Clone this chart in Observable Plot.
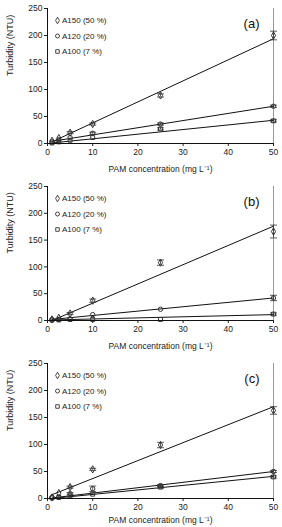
<!DOCTYPE html>
<html>
<head>
<meta charset="utf-8">
<script src="https://cdn.jsdelivr.net/npm/d3@7"></script>
<script src="https://cdn.jsdelivr.net/npm/@observablehq/plot@0.6"></script>
<style>
  html, body { margin: 0; padding: 0; background: #fff; }
  #charts { width: 282px; }
  #charts svg { display: block; }
</style>
</head>
<body>
<div id="charts"></div>
<script>
// ---- data ----
const doses = [1, 2.5, 5, 10, 25, 50];
const seriesNames = ["A150 (50 %)", "A120 (20 %)", "A100 (7 %)"];
const seriesSymbols = ["diamond", "circle", "square"];
const panelLabels = ["(a)", "(b)", "(c)"];
const xTicks = [0, 10, 20, 30, 40, 50];
const yTicks = [0, 50, 100, 150, 200, 250];
const fitX = [1, 50];

// panel (a)
const a_A150 = [5, 10, 20, 36, 89, 200];
const a_A120 = [3, 7, 11, 19, 36, 69];
const a_A100 = [1, 3, 6, 11, 27, 42];
const a_err150 = [1, 1, 2, 2, 3, 8];
const a_err120 = [1, 1, 1, 2, 2, 2];
const a_err100 = [1, 1, 1, 1, 2, 2];
const a_fit150 = [3, 194];
const a_fit120 = [4, 69];
const a_fit100 = [1, 43];

// panel (b)
const b_A150 = [2, 5, 13, 37, 108, 166];
const b_A120 = [1, 2, 3, 11, 21, 42];
const b_A100 = [1, 1, 2, 2, 2, 12];
const b_err150 = [1, 1, 2, 3, 5, 12];
const b_err120 = [1, 1, 1, 1, 1, 5];
const b_err100 = [1, 1, 1, 1, 1, 2];
const b_fit150 = [0, 176];
const b_fit120 = [2, 42];
const b_fit100 = [1, 11];

// panel (c)
const c_A150 = [2, 10, 21, 54, 99, 163];
const c_A120 = [2, 3, 9, 18, 24, 50];
const c_A100 = [1, 2, 5, 8, 21, 40];
const c_err150 = [1, 1, 2, 2, 5, 7];
const c_err120 = [1, 1, 2, 5, 2, 2];
const c_err100 = [1, 1, 1, 1, 2, 2];
const c_fit150 = [7, 170];
const c_fit120 = [1, 50];
const c_fit100 = [0, 41];

const panels = [
  {vals: [a_A150, a_A120, a_A100], errs: [a_err150, a_err120, a_err100], fits: [a_fit150, a_fit120, a_fit100]},
  {vals: [b_A150, b_A120, b_A100], errs: [b_err150, b_err120, b_err100], fits: [b_fit150, b_fit120, b_fit100]},
  {vals: [c_A150, c_A120, c_A100], errs: [c_err150, c_err120, c_err100], fits: [c_fit150, c_fit120, c_fit100]}
];

// layout per panel
const heights = [178, 177, 172];
const bottoms = [35, 35, 29];
const titleOffsets = [26, 26, 22];

// horizontal-line symbol for error bar caps
const capSymbol = {
  draw(context, size) {
    const w = Math.sqrt(size) * 0.9;
    context.moveTo(-w, 0);
    context.lineTo(w, 0);
  }
};

const FONT = "Liberation Sans, Arial, sans-serif";
const container = document.getElementById("charts");

panels.forEach((p, pi) => {
  const points = [];
  const fitRows = [];
  p.vals.forEach((arr, si) => {
    arr.forEach((v, i) => {
      points.push({x: doses[i], y: v, e: p.errs[si][i], s: si});
    });
    fitX.forEach((fx, k) => fitRows.push({x: fx, y: p.fits[si][k], s: si}));
  });
  const errPts = points.filter(d => d.e > 1.5);

  const marks = [
    Plot.ruleX([50], {stroke: "#999", strokeWidth: 1}),
    Plot.axisX({ticks: xTicks, tickSize: 3, tickPadding: 2, fontSize: 8.5, label: null}),
    Plot.axisY({ticks: yTicks, tickSize: 3, tickPadding: 2, fontSize: 8.5, label: null}),
    Plot.text(["PAM concentration (mg L\u207B\u00B9)"], {text: d => d, frameAnchor: "bottom", dy: titleOffsets[pi], lineAnchor: "middle", fontSize: 8.5, fill: "#222"}),
    Plot.text(["Turbidity (NTU)"], {text: d => d, frameAnchor: "left", dx: -37, rotate: -90, lineAnchor: "middle", fontSize: 9, fill: "#222"}),
    Plot.line(fitRows, {x: "x", y: "y", z: "s", stroke: "#111", strokeWidth: 1}),
    Plot.ruleX(errPts, {x: "x", y1: d => d.y - d.e, y2: d => d.y + d.e, stroke: "#333", strokeWidth: 0.8}),
    Plot.dot(errPts, {x: "x", y: d => d.y - d.e, symbol: capSymbol, r: 2.2, stroke: "#333", strokeWidth: 0.8}),
    Plot.dot(errPts, {x: "x", y: d => d.y + d.e, symbol: capSymbol, r: 2.2, stroke: "#333", strokeWidth: 0.8}),
    ...seriesSymbols.map((sym, si) =>
      Plot.dot(points.filter(d => d.s === si), {x: "x", y: "y", symbol: sym, r: 2.2, stroke: "#333", strokeWidth: 1, fill: "none"})
    ),
    Plot.ruleX([0], {stroke: "#111", strokeWidth: 1}),
    Plot.ruleY([0], {stroke: "#111", strokeWidth: 1}),
    ...seriesNames.flatMap((name, si) => [
      Plot.dot([name], {frameAnchor: "top-left", dx: 10, dy: 12 + si * 15.5, symbol: seriesSymbols[si], r: 2, stroke: "#333", strokeWidth: 0.9, fill: "none"}),
      Plot.text([name], {text: d => d, frameAnchor: "top-left", dx: 14.5, dy: 12 + si * 15.5, lineAnchor: "middle", textAnchor: "start", fontSize: 8, fill: "#222"})
    ]),
    Plot.text([panelLabels[pi]], {text: d => d, frameAnchor: "top-right", dx: -14, dy: 15, lineAnchor: "middle", textAnchor: "end", fontSize: 13, fill: "#111"})
  ];

  const chart = Plot.plot({
    width: 282,
    height: heights[pi],
    marginLeft: 47,
    marginRight: 9,
    marginTop: 8,
    marginBottom: bottoms[pi],
    style: {fontFamily: FONT, fontSize: "8.5px", color: "#222", background: "#fff", overflow: "visible"},
    x: {domain: [0, 50]},
    y: {domain: [0, 250]},
    marks
  });
  container.appendChild(chart);
});
</script>
</body>
</html>
